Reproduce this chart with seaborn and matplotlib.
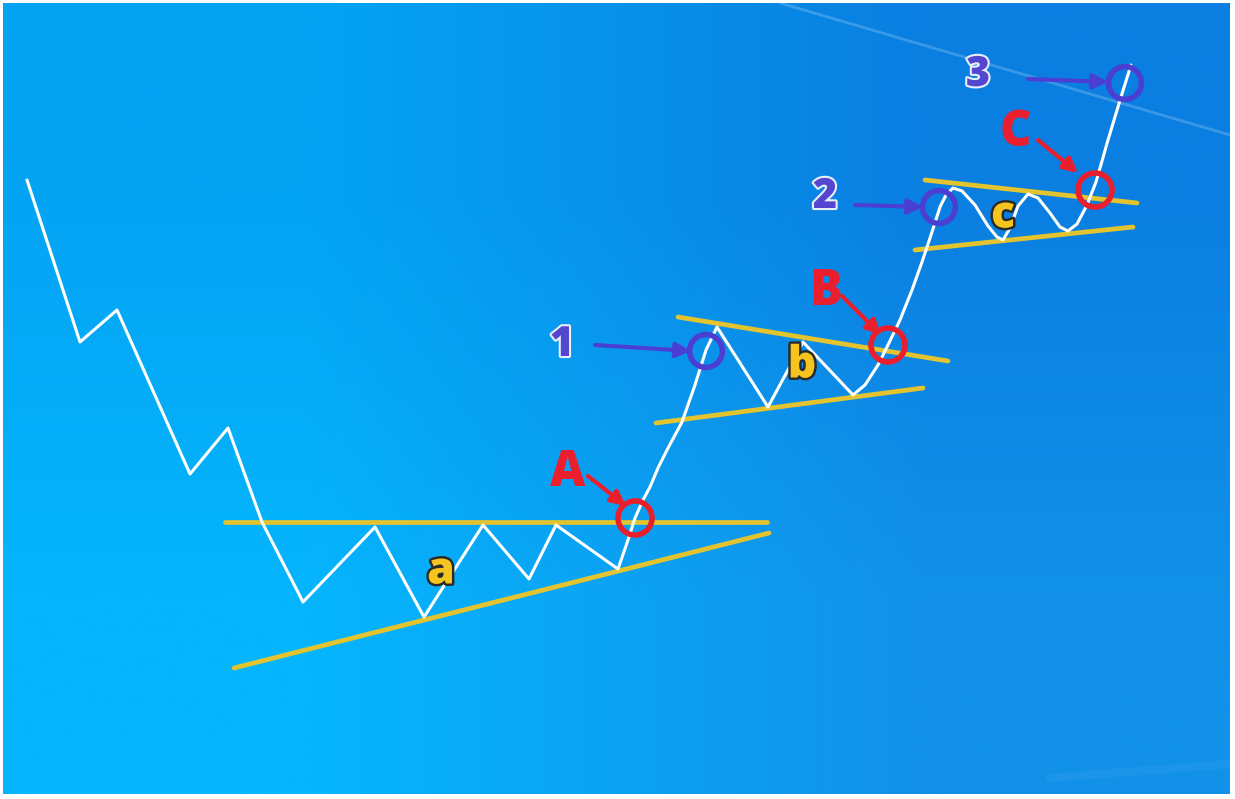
import numpy as np
import pandas as pd
import matplotlib.pyplot as plt
import matplotlib.patheffects as pe
import seaborn as sns

# price path (pixel-like coords, y grows downward)
path_x = [27, 80, 117, 190, 228, 262, 303, 375, 424, 483, 529, 556, 618, 628, 635,
          643, 650, 658, 667, 682, 695, 706, 717, 768, 803, 853, 865, 878, 888,
          900, 912, 922, 932, 940, 946, 953, 962, 975, 988, 997, 1003, 1010, 1018,
          1028, 1038, 1050, 1060, 1068, 1077, 1087, 1096, 1108, 1121, 1131]
path_y = [180, 342, 310, 474, 428, 522, 602, 527, 617, 525, 579, 525, 569, 540, 518,
          500, 487, 468, 450, 422, 385, 350, 327, 407, 342, 395, 385, 365, 345,
          320, 290, 262, 232, 207, 195, 188, 191, 205, 226, 237, 240, 228, 206,
          194, 198, 213, 227, 231, 224, 205, 182, 140, 97, 65]

# trendlines: (x0, y0, x1, y1)
trend_lines = {
    "a_top": (225, 522, 767, 522),
    "a_bot": (234, 668, 769, 533),
    "b_top": (678, 317, 948, 361),
    "b_bot": (656, 423, 923, 388),
    "c_top": (925, 180, 1137, 203),
    "c_bot": (915, 250, 1133, 227),
}

breakout_x = [635, 888, 1095]
breakout_y = [518, 345, 190]
breakout_labels = ["A", "B", "C"]
breakout_text_xy = [(568, 473), (826, 292), (1015, 133)]
breakout_arrow = [((588, 476), (626, 506)), ((842, 296), (881, 335)), ((1038, 140), (1078, 173))]

peak_x = [706, 939, 1125]
peak_y = [351, 207, 83]
peak_labels = ["1", "2", "3"]
peak_text_xy = [(562, 345), (825, 197), (978, 75)]
peak_arrow = [((595, 345), (691, 351)), ((855, 205), (923, 207)), ((1028, 79), (1108, 82))]

pattern_labels = ["a", "b", "c"]
pattern_xy = [(441, 572), (802, 366), (1003, 216)]

sns.set_style("white")
plt.rcParams["font.family"] = ["Open Sans", "DejaVu Sans"]

fig = plt.figure(figsize=(12.35, 7.99), dpi=100, facecolor="white")
ax = fig.add_axes([0, 0, 1, 1])
ax.set_xlim(0, 1235)
ax.set_ylim(799, 0)
ax.axis("off")

# blue gradient background
def hex2rgb(h):
    h = h.lstrip("#")
    return [int(h[i:i + 2], 16) / 255 for i in (0, 2, 4)]

corners = np.array([[hex2rgb("#04a4f4"), hex2rgb("#0a7fe1")],
                    [hex2rgb("#05b5fd"), hex2rgb("#1291e9")]])
ax.imshow(corners, extent=(3, 1230, 794, 3), interpolation="bilinear",
          aspect="auto", zorder=0)
# faint light streaks
ax.plot([780, 1230], [3, 135], color="white", alpha=0.2, lw=2, zorder=1)
ax.plot([1050, 1230], [778, 764], color="white", alpha=0.04, lw=6, zorder=1)

df = pd.DataFrame({"x": path_x, "y": path_y})
sns.lineplot(data=df, x="x", y="y", sort=False, estimator=None, color="white",
             lw=2.2, ax=ax, zorder=3)

for name, (x0, y0, x1, y1) in trend_lines.items():
    sns.lineplot(x=[x0, x1], y=[y0, y1], color="#e4c42e", lw=3.4, ax=ax,
                 zorder=2, solid_capstyle="round")

ax.scatter(breakout_x, breakout_y, s=600, facecolors="none", edgecolors="#ea1f2d",
           linewidths=4, zorder=5)
ax.scatter(peak_x, peak_y, s=560, facecolors="none", edgecolors="#4b3fd3",
           linewidths=4, zorder=5)

for lab, (tx, ty), (a0, a1) in zip(breakout_labels, breakout_text_xy, breakout_arrow):
    ax.text(tx, ty, lab, color="#ea1f2d", fontsize=35, fontweight=800,
            ha="center", va="center", zorder=6)
    ax.annotate("", xy=a1, xytext=a0,
                arrowprops=dict(arrowstyle="-|>", color="#ea1f2d", lw=3,
                                mutation_scale=22, shrinkA=0, shrinkB=0), zorder=6)

for lab, (tx, ty), (a0, a1) in zip(peak_labels, peak_text_xy, peak_arrow):
    ax.text(tx, ty, lab, color="#5446cf", fontsize=30, fontweight=800,
            ha="center", va="center", zorder=6,
            path_effects=[pe.withStroke(linewidth=3, foreground="#e8eefa")])
    ax.annotate("", xy=a1, xytext=a0,
                arrowprops=dict(arrowstyle="-|>", color="#4b3fd3", lw=3,
                                mutation_scale=22, shrinkA=0, shrinkB=0), zorder=6)

for lab, (tx, ty) in zip(pattern_labels, pattern_xy):
    ax.text(tx, ty, lab, color="#f6c41e", fontsize=32, fontweight=800,
            ha="center", va="center", zorder=6,
            path_effects=[pe.withStroke(linewidth=3.5, foreground="#2a2a2a")])

fig.savefig("out.png", dpi=100, facecolor="white")
